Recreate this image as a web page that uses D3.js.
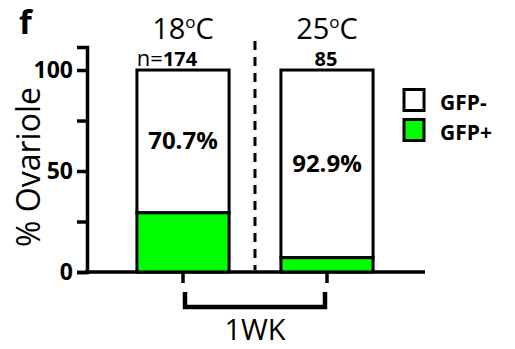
<!DOCTYPE html>
<html>
<head>
<meta charset="utf-8">
<script src="https://cdn.jsdelivr.net/npm/d3@7"></script>
<style>
  body { margin: 0; background: #fff; }
  text { font-family: 'Open Sans', sans-serif; }
</style>
</head>
<body>
<div id="chart"></div>
<script>
var groups = ["18", "25"];
var gfpPos = [29.3, 7.1];
var gfpNeg = [70.7, 92.9];
var nCounts = ["174", "85"];
var yTicks = [0, 25, 50, 75, 100];
var yLabels = [0, 50, 100];
var legendItems = ["GFP-", "GFP+"];
var green = "#00ff00";

var w = 515, h = 349;
var svg = d3.select("#chart").append("svg").attr("width", w).attr("height", h);

var y = d3.scaleLinear().domain([0, 111.4]).range([272, 47]);
var x = d3.scaleBand().domain(groups).range([111, 399]).paddingInner(0.36).paddingOuter(0.18);

// y axis
var yAxis = d3.axisLeft(y).tickValues(yTicks).tickSizeOuter(0).tickSize(10)
    .tickFormat(d => yLabels.indexOf(d) >= 0 ? d : "");
var yg = svg.append("g").attr("transform", "translate(87,0)").call(yAxis);
yg.select(".domain").attr("stroke-width", 3.5);
yg.selectAll(".tick line").attr("stroke-width", 3.5);
yg.selectAll(".tick text").attr("x", -14).style("font-size", "23px").style("font-weight", "bold")
    .style("font-family", "'Open Sans', sans-serif").attr("fill", "#000");

// x axis line
svg.append("line").attr("x1", 85).attr("x2", 425).attr("y1", y(0)).attr("y2", y(0))
    .attr("stroke", "#000").attr("stroke-width", 3.5);

// x ticks
svg.selectAll(".xtick").data(groups).enter().append("line")
    .attr("x1", d => x(d) + x.bandwidth() / 2).attr("x2", d => x(d) + x.bandwidth() / 2)
    .attr("y1", y(0)).attr("y2", y(0) + 11)
    .attr("stroke", "#000").attr("stroke-width", 3.5);

// bars
svg.selectAll(".neg").data(groups).enter().append("rect")
    .attr("x", d => x(d)).attr("width", x.bandwidth())
    .attr("y", (d, i) => y(gfpPos[i] + gfpNeg[i]))
    .attr("height", (d, i) => y(gfpPos[i]) - y(gfpPos[i] + gfpNeg[i]))
    .attr("fill", "#fff").attr("stroke", "#000").attr("stroke-width", 3);
svg.selectAll(".pos").data(groups).enter().append("rect")
    .attr("x", d => x(d)).attr("width", x.bandwidth())
    .attr("y", (d, i) => y(gfpPos[i]))
    .attr("height", (d, i) => y(0) - y(gfpPos[i]))
    .attr("fill", green).attr("stroke", "#000").attr("stroke-width", 3);

// percent labels
svg.selectAll(".pct").data(groups).enter().append("text")
    .attr("x", d => x(d) + x.bandwidth() / 2)
    .attr("y", (d, i) => (y(gfpPos[i]) + y(gfpPos[i] + gfpNeg[i])) / 2 + 8)
    .attr("text-anchor", "middle").style("font-size", "24px").style("font-weight", "bold")
    .text((d, i) => gfpNeg[i].toFixed(1) + "%");

// n labels
var nl = svg.selectAll(".nlab").data(groups).enter().append("text")
    .attr("x", (d, i) => x(d) + x.bandwidth() / 2 - (i === 0 ? 16 : 1))
    .attr("y", 66).attr("text-anchor", "middle");
nl.append("tspan").style("font-size", "22px").text((d, i) => i === 0 ? "n=" : "");
nl.append("tspan").style("font-size", "20px").style("font-weight", "bold").text((d, i) => nCounts[i]);

// temperature titles
var tl = svg.selectAll(".title").data(groups).enter().append("text")
    .attr("x", d => x(d) + x.bandwidth() / 2).attr("y", 39)
    .attr("text-anchor", "middle").style("font-size", "29px");
tl.append("tspan").text(d => d);
tl.append("tspan").attr("dy", -11).style("font-size", "17px").text("o");
tl.append("tspan").attr("dy", 11).text("C");

// dashed divider
svg.append("line").attr("x1", 255).attr("x2", 255).attr("y1", 41).attr("y2", 270)
    .attr("stroke", "#000").attr("stroke-width", 3).attr("stroke-dasharray", "9,7");

// bracket
var bx1 = x(groups[0]) + x.bandwidth() / 2 + 2, bx2 = x(groups[1]) + x.bandwidth() / 2 - 2;
svg.append("path")
    .attr("d", "M" + bx1 + ",292 V307 H" + bx2 + " V292")
    .attr("fill", "none").attr("stroke", "#000").attr("stroke-width", 4.5);
svg.append("text").attr("x", (bx1 + bx2) / 2).attr("y", 340).attr("text-anchor", "middle")
    .style("font-size", "29px").text("1WK");

// y label
svg.append("text").attr("transform", "translate(40,167) rotate(-90)")
    .attr("text-anchor", "middle").style("font-size", "32px").text("% Ovariole");

// panel letter
svg.append("text").attr("x", 19).attr("y", 34).style("font-size", "33px").style("font-weight", "bold").text("f");

// legend
var lg = svg.selectAll(".leg").data(legendItems).enter().append("g")
    .attr("transform", (d, i) => "translate(404," + (89.5 + i * 30) + ")");
lg.append("rect").attr("width", 20).attr("height", 21)
    .attr("fill", (d, i) => i === 0 ? "#fff" : green).attr("stroke", "#000").attr("stroke-width", 3);
lg.append("text").attr("x", 36).attr("y", 20.5).style("font-size", "21px").style("font-weight", "bold").text(d => d);
</script>
</body>
</html>
